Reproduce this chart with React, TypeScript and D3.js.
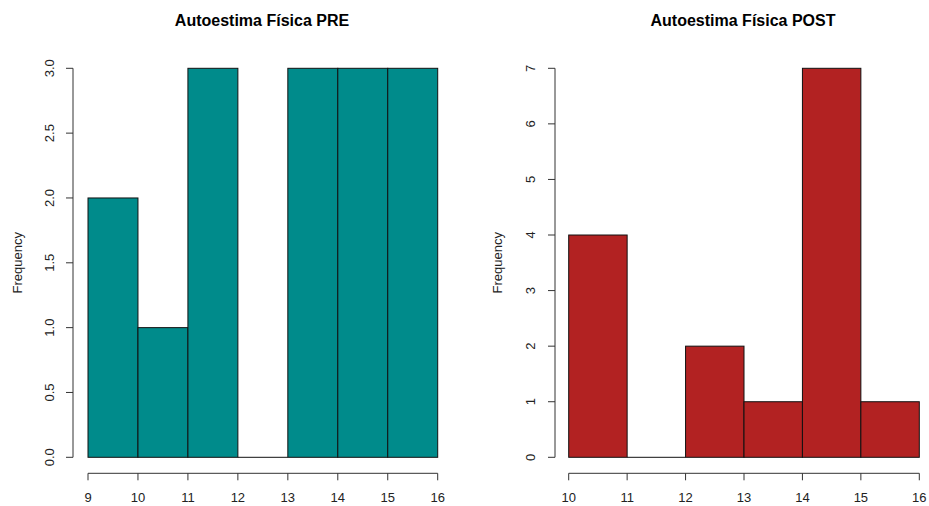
import React from "react";
import * as d3 from "d3";

// Histogram bin edges and counts
const preBreaks = [9, 10, 11, 12, 13, 14, 15, 16];
const preCounts = [2, 1, 3, 0, 3, 3, 3];
const preYTicks = [0, 0.5, 1, 1.5, 2, 2.5, 3];

const postBreaks = [10, 11, 12, 13, 14, 15, 16];
const postCounts = [4, 0, 2, 1, 7, 1];
const postYTicks = [0, 1, 2, 3, 4, 5, 6, 7];

const W = 929;
const H = 506;
const FONT = "Liberation Sans, Arial, sans-serif";

type PanelProps = {
  title: string;
  breaks: number[];
  counts: number[];
  yTicks: number[];
  yFmt: (v: number) => string;
  fill: string;
  x0: number;
  x1: number;
  yAxisX: number;
  yLabelX: number;
  freqX: number;
  titleX: number;
};

function Panel(p: PanelProps) {
  const yBottom = 457.3;
  const yTop = 68.3;
  const x = d3
    .scaleLinear()
    .domain([p.breaks[0], p.breaks[p.breaks.length - 1]])
    .range([p.x0, p.x1]);
  const y = d3
    .scaleLinear()
    .domain([0, p.yTicks[p.yTicks.length - 1]])
    .range([yBottom, yTop]);
  const axisY = 473.3;
  const axisColor = "#333";
  return (
    <g>
      <text
        x={p.titleX}
        y={26}
        textAnchor="middle"
        fontFamily={FONT}
        fontWeight="bold"
        fontSize={16}
        fill="#000"
      >
        {p.title}
      </text>
      {p.counts.map((c, i) =>
        c > 0 ? (
          <rect
            key={i}
            x={x(p.breaks[i])}
            y={y(c)}
            width={x(p.breaks[i + 1]) - x(p.breaks[i])}
            height={y(0) - y(c)}
            fill={p.fill}
            stroke="#111"
            strokeWidth={1}
          />
        ) : (
          // empty bin: a flat bar collapses to its baseline edge
          <line
            key={i}
            x1={x(p.breaks[i])}
            x2={x(p.breaks[i + 1])}
            y1={y(0)}
            y2={y(0)}
            stroke="#111"
            strokeWidth={1}
          />
        )
      )}
      {/* x axis */}
      <line x1={x.range()[0]} x2={x.range()[1]} y1={axisY} y2={axisY} stroke={axisColor} />
      {p.breaks.map((b) => (
        <g key={b}>
          <line x1={x(b)} x2={x(b)} y1={axisY} y2={axisY + 7} stroke={axisColor} />
          <text
            x={x(b)}
            y={axisY + 29}
            textAnchor="middle"
            fontFamily={FONT}
            fontSize={13}
            fill="#222"
          >
            {b}
          </text>
        </g>
      ))}
      {/* y axis */}
      <line x1={p.yAxisX} x2={p.yAxisX} y1={y(0)} y2={y(p.yTicks[p.yTicks.length - 1])} stroke={axisColor} />
      {p.yTicks.map((t) => (
        <g key={t}>
          <line x1={p.yAxisX - 7} x2={p.yAxisX} y1={y(t)} y2={y(t)} stroke={axisColor} />
          <text
            transform={`translate(${p.yLabelX},${y(t)}) rotate(-90)`}
            textAnchor="middle"
            dominantBaseline="central"
            fontFamily={FONT}
            fontSize={13}
            fill="#222"
          >
            {p.yFmt(t)}
          </text>
        </g>
      ))}
      <text
        transform={`translate(${p.freqX},${(yTop + yBottom) / 2}) rotate(-90)`}
        textAnchor="middle"
        dominantBaseline="central"
        fontFamily={FONT}
        fontSize={13}
        fill="#222"
      >
        Frequency
      </text>
    </g>
  );
}

export default function App() {
  return (
    <svg width={W} height={H} style={{ display: "block", position: "absolute", left: 0, top: 0, background: "#fff" }}>
      <rect width={W} height={H} fill="#fff" />
      <Panel
        title="Autoestima Física PRE"
        breaks={preBreaks}
        counts={preCounts}
        yTicks={preYTicks}
        yFmt={d3.format(".1f")}
        fill="#008B8B"
        x0={88}
        x1={437.7}
        yAxisX={73}
        yLabelX={49}
        freqX={17}
        titleX={262}
      />
      <Panel
        title="Autoestima Física POST"
        breaks={postBreaks}
        counts={postCounts}
        yTicks={postYTicks}
        yFmt={d3.format("d")}
        fill="#B22222"
        x0={568.7}
        x1={919.3}
        yAxisX={555}
        yLabelX={530}
        freqX={497}
        titleX={743}
      />
    </svg>
  );
}
